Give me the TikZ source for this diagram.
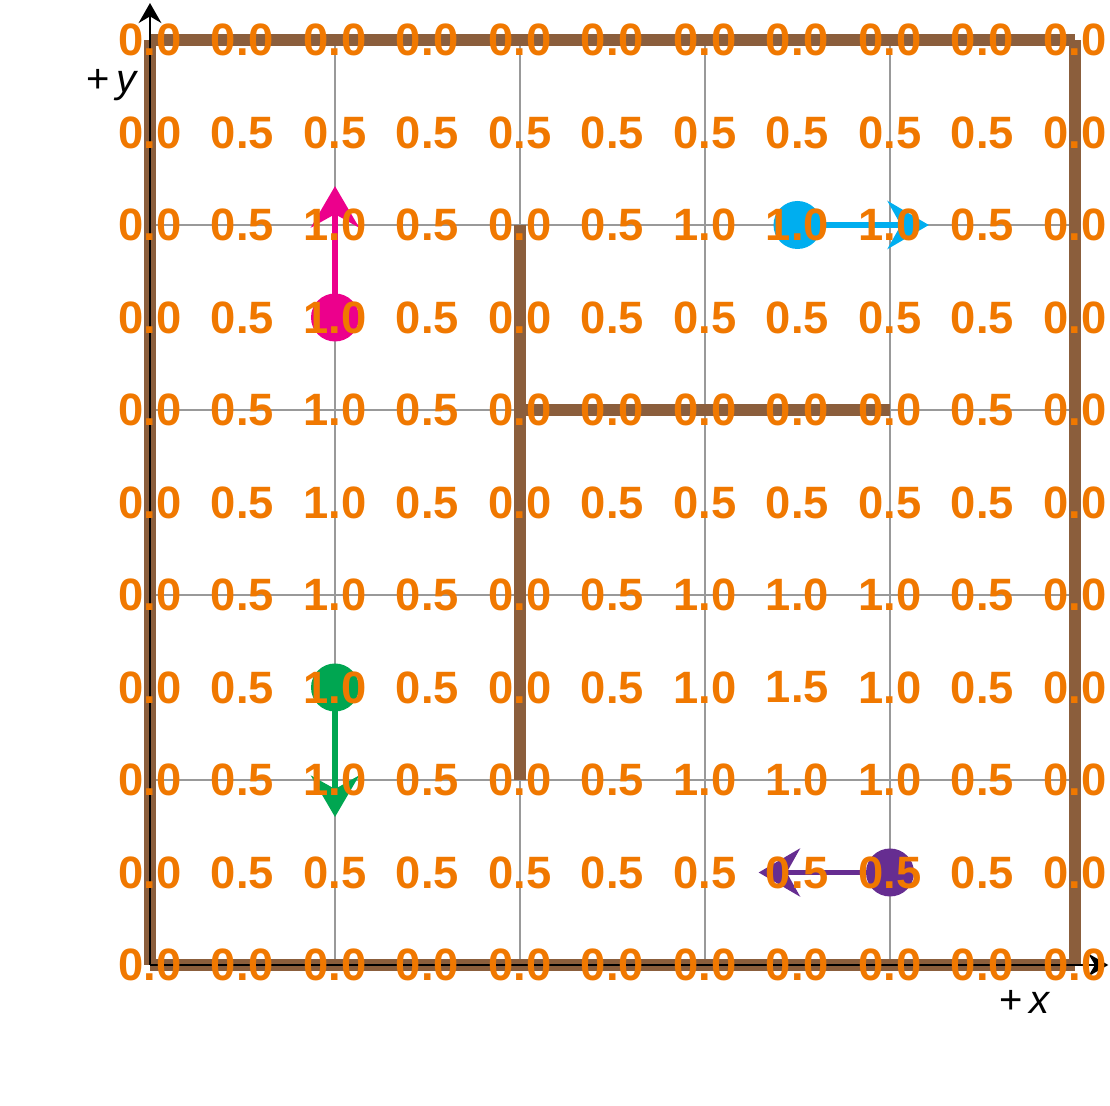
\documentclass[tikz,border=0pt]{standalone}
\usepackage{fontspec}
\setmainfont{Liberation Sans}
\usetikzlibrary{arrows.meta}
\definecolor{lblc}{HTML}{F07800}
\definecolor{wallc}{HTML}{8B5E3C}
\definecolor{gridc}{HTML}{999999}
\definecolor{magc}{HTML}{EC008C}
\definecolor{cyac}{HTML}{00AEEF}
\definecolor{grnc}{HTML}{00A651}
\definecolor{purc}{HTML}{662D91}
\tikzset{
  gridline/.style={draw=gridc, line width=0.8pt},
  wall/.style={draw=wallc, line width=9pt, line cap=butt},
  axis/.style={draw=black, line width=2.2pt, -{Stealth[length=15pt,width=17pt,inset=5pt]}},
  val/.style={text=lblc, font=\fontsize{34}{34}\selectfont\bfseries, inner sep=0pt, anchor=center},
  agent/.style={circle, fill=#1, minimum size=36pt, inner sep=0pt},
  move/.style={draw=#1, line width=3.8pt, -{Stealth[length=31pt,width=36pt,inset=10pt]}},
  axlabel/.style={font=\fontsize{30}{30}\selectfont, inner sep=0pt}
}
\begin{document}
\begin{tikzpicture}[x=69.375pt,y=69.375pt]
\useasboundingbox (-1.6216,-1.5243) rectangle (10.3784,10.4324);
% grid
\draw[gridline] (0,0) grid[step=2] (10,10);
% walls
\coordinate (w00) at (0,0);
\coordinate (w10) at (10,0);
\coordinate (w01) at (0,10);
\coordinate (w11) at (10,10);
\draw[wall] (w01) -- (w11);
\draw[wall] (w00) -- (w01);
\draw[wall] (w10) -- (w11);
\draw[wall] (w00) -- (w10);
\coordinate (i1) at (4,8);
\coordinate (i2) at (4,2);
\coordinate (i3) at (4,6);
\coordinate (i4) at (8,6);
\draw[wall] (i1) -- (i2);
\draw[wall] (i3) -- (i4);
% axes
\coordinate (origin) at (0,0);
\coordinate (xend) at (10.36,0);
\coordinate (yend) at (0,10.40);
\draw[axis] (origin) -- (xend);
\draw[axis] (origin) -- (yend);
\node[axlabel] (xlab) at (9.46,-0.40) {+\,\textit{x}};
\node[axlabel] (ylab) at (-0.41,9.51) {+\,\textit{y}};
% agents
\node[agent=magc] (amag) at (2,7) {};
\coordinate (tmag) at (2,8.42);
\draw[move=magc] (amag.center) -- (tmag);
\node[agent=cyac] (acya) at (7,8) {};
\coordinate (tcya) at (8.42,8);
\draw[move=cyac] (acya.center) -- (tcya);
\node[agent=grnc] (agrn) at (2,3) {};
\coordinate (tgrn) at (2,1.60);
\draw[move=grnc] (agrn.center) -- (tgrn);
\node[agent=purc] (apur) at (8,1) {};
\coordinate (tpur) at (6.58,1);
\draw[move=purc] (apur.center) -- (tpur);
% values
\foreach \r/\vals in {
  10/{0.0,0.0,0.0,0.0,0.0,0.0,0.0,0.0,0.0,0.0,0.0},
  9/{0.0,0.5,0.5,0.5,0.5,0.5,0.5,0.5,0.5,0.5,0.0},
  8/{0.0,0.5,1.0,0.5,0.0,0.5,1.0,1.0,1.0,0.5,0.0},
  7/{0.0,0.5,1.0,0.5,0.0,0.5,0.5,0.5,0.5,0.5,0.0},
  6/{0.0,0.5,1.0,0.5,0.0,0.0,0.0,0.0,0.0,0.5,0.0},
  5/{0.0,0.5,1.0,0.5,0.0,0.5,0.5,0.5,0.5,0.5,0.0},
  4/{0.0,0.5,1.0,0.5,0.0,0.5,1.0,1.0,1.0,0.5,0.0},
  3/{0.0,0.5,1.0,0.5,0.0,0.5,1.0,1.5,1.0,0.5,0.0},
  2/{0.0,0.5,1.0,0.5,0.0,0.5,1.0,1.0,1.0,0.5,0.0},
  1/{0.0,0.5,0.5,0.5,0.5,0.5,0.5,0.5,0.5,0.5,0.0},
  0/{0.0,0.0,0.0,0.0,0.0,0.0,0.0,0.0,0.0,0.0,0.0}}
{
  \foreach \v [count=\c from 0] in \vals {
    \node[val] (v-\r-\c) at (\c,\r) {\v};
  }
}
\end{tikzpicture}
\end{document}
